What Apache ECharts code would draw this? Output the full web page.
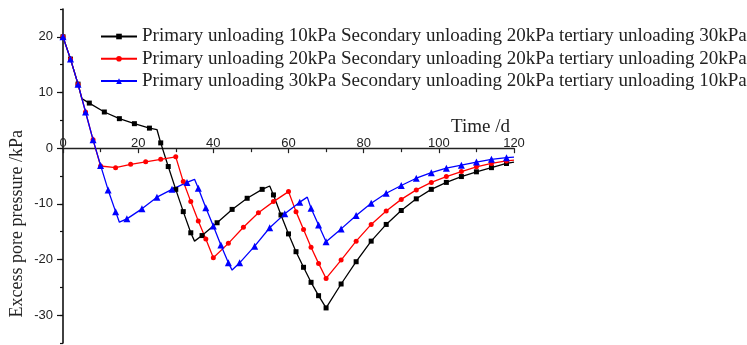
<!DOCTYPE html>
<html>
<head>
<meta charset="utf-8">
<script src="https://cdn.jsdelivr.net/npm/echarts@6/dist/echarts.min.js"></script>
<style>
html,body{margin:0;padding:0;background:#fff;}
#chart{width:747px;height:345px;}
</style>
</head>
<body>
<div id="chart"></div>
<script>
// ---- data ----
const seriesNames = [
  'Primary unloading 10kPa Secondary unloading 20kPa tertiary unloading 30kPa',
  'Primary unloading 20kPa Secondary unloading 20kPa tertiary unloading 20kPa',
  'Primary unloading 30kPa Secondary unloading 20kPa tertiary unloading 10kPa'
];
const blackX = [0,2,4,5,7,11,15,19,23,25,26,28,30,32,34,35,37,41,45,49,53,55,56,58,60,62,64,66,68,70,74,78,82,86,90,94,98,102,106,110,114,118,120];
const blackY = [20,16,11.5,8.9,8.1,6.5,5.3,4.4,3.6,3.35,0.95,-3.3,-7.4,-11.4,-15.2,-16.7,-15.7,-13.4,-11.0,-9.0,-7.4,-6.8,-8.4,-12.0,-15.4,-18.6,-21.4,-24.1,-26.5,-28.7,-24.4,-20.4,-16.7,-13.7,-11.2,-9.1,-7.4,-6.15,-5.1,-4.25,-3.5,-2.75,-2.5];
const blackUnmarkedX = [5,25,35,55,120];

const redX = [0,2,4,6,8,10,14,18,22,26,30,32,34,36,38,40,44,48,52,56,60,62,64,66,68,70,74,78,82,86,90,94,98,102,106,110,114,118,120];
const redY = [20,16,11.5,6.5,1.5,-3.2,-3.5,-2.9,-2.45,-2.0,-1.56,-6.0,-9.6,-13.1,-16.3,-19.7,-17.1,-14.2,-11.6,-9.6,-7.8,-11.4,-14.6,-17.8,-20.7,-23.4,-20.1,-16.7,-13.7,-11.3,-9.2,-7.5,-6.15,-5.1,-4.2,-3.35,-2.75,-2.3,-2.15];
const redUnmarkedX = [120];

const blueX = [0,2,4,6,8,10,12,14,15,17,21,25,29,33,35,36,38,40,42,44,45,47,51,55,59,63,65,66,68,70,74,78,82,86,90,94,98,102,106,110,114,118,120];
const blueY = [20,16,11.5,6.5,1.5,-3.1,-7.5,-11.4,-13.3,-12.7,-10.9,-8.8,-7.4,-6.15,-5.6,-7.2,-10.7,-14.0,-17.4,-20.6,-21.9,-20.6,-17.6,-14.3,-11.8,-9.7,-8.8,-10.8,-13.8,-16.8,-14.5,-12.1,-9.9,-8.1,-6.7,-5.4,-4.4,-3.6,-3.05,-2.5,-2.0,-1.7,-1.6];
const blueUnmarkedX = [15,35,45,65,120];

const yMajorTicks = [-30,-20,-10,0,10,20];
const xName = 'Time /d';
const yName = 'Excess pore pressure /kPa';

// ---- build ----
function build(xs, ys, unmarked) {
  return xs.map((x, i) => unmarked.indexOf(x) >= 0
    ? { value: [x, ys[i]], symbol: 'none' }
    : { value: [x, ys[i]] });
}
const serif = 'Liberation Serif';
const sans = 'Liberation Sans';
const colors = ['#000000', '#ff0000', '#0000ff'];
const symbols = ['rect', 'circle', 'triangle'];
const sizes = [5, 5, 7];
const datas = [build(blackX, blackY, blackUnmarkedX), build(redX, redY, redUnmarkedX), build(blueX, blueY, blueUnmarkedX)];

const chart = echarts.init(document.getElementById('chart'), null, { renderer: 'canvas' });
chart.setOption({
  animation: false,
  backgroundColor: '#ffffff',
  grid: { left: 63, top: 9, width: 451, height: 334, containLabel: false },
  legend: {
    orient: 'vertical', left: 95, top: 22,
    itemWidth: 36, itemHeight: 7, itemGap: 3.3,
    textStyle: { fontFamily: serif, fontSize: 19, color: '#222', lineHeight: 19 },
    data: seriesNames
  },
  xAxis: {
    type: 'value', min: 0, max: 120, interval: 20, position: 'bottom', offset: 0,
    axisLine: { onZero: false, lineStyle: { color: '#222', width: 1.3 } },
    axisTick: { show: true, inside: false, length: 5, lineStyle: { color: '#222', width: 1.2 } },
    minorTick: { show: true, splitNumber: 2, length: 4, lineStyle: { color: '#222', width: 1.2 } },
    axisLabel: { inside: true, margin: -2, fontFamily: sans, fontSize: 13, color: '#222' },
    splitLine: { show: false }
  },
  yAxis: [{
    type: 'value', min: -35, max: 25, interval: 5,
    axisLine: { show: true, onZero: false, lineStyle: { color: '#111', width: 1.6 } },
    axisTick: { show: true, inside: false, length: 3, lineStyle: { color: '#111', width: 1.2 } },
    axisLabel: { margin: 10, fontFamily: sans, fontSize: 13, color: '#222',
      formatter: v => (v % 10 === 0 ? String(v) : '') },
    splitLine: { show: false }
  }, {
    type: 'value', min: -35, max: 25, interval: 5, position: 'left', offset: 0,
    axisLine: { show: false, onZero: false },
    axisTick: { show: true, inside: false, length: 6, customValues: yMajorTicks,
      lineStyle: { color: '#111', width: 1.2 } },
    axisLabel: { show: false },
    splitLine: { show: false }
  }],
  series: datas.map((d, i) => ({
    name: seriesNames[i], type: 'line', data: d, yAxisIndex: 0,
    symbol: symbols[i], symbolSize: sizes[i], showAllSymbol: true,
    color: colors[i],
    lineStyle: { color: colors[i], width: 1.3 },
    itemStyle: { color: colors[i] }
  }))
});

// move the x axis onto y = 0 using the library's own y scale
const yZero = chart.convertToPixel({ yAxisIndex: 0 }, 0);
const yBottom = chart.convertToPixel({ yAxisIndex: 0 }, -35);
const p0 = chart.convertToPixel({ gridIndex: 0 }, [120, 0]);
chart.setOption({
  xAxis: { offset: -(yBottom - yZero) },
  graphic: [{
    type: 'text', left: 8, top: 130,
    style: { text: yName, font: '18px "' + serif + '"', fill: '#222' },
    rotation: Math.PI / 2
  }, {
    type: 'text', x: p0[0] - 4, y: p0[1] - 21,
    style: { text: xName, font: '19px "' + serif + '"', fill: '#222', align: 'right', verticalAlign: 'middle' }
  }]
});
</script>
</body>
</html>
